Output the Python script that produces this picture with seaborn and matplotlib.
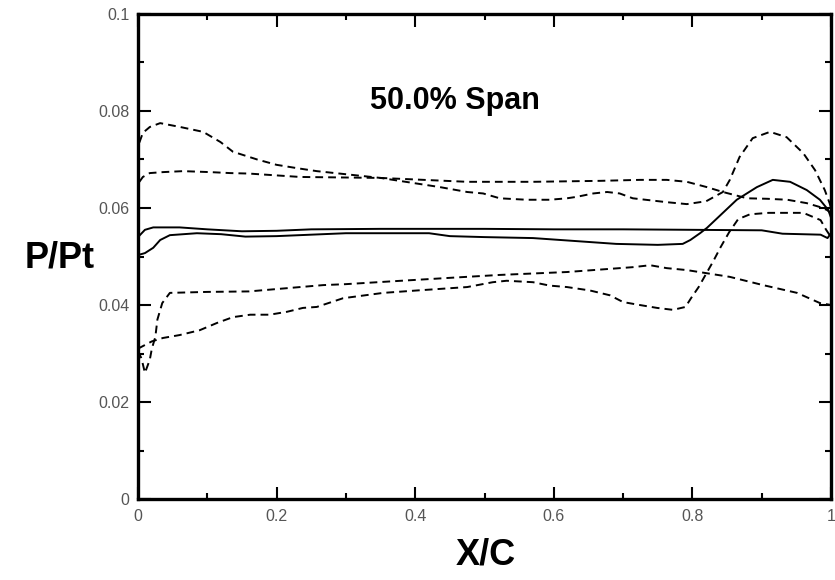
import matplotlib
matplotlib.use("Agg")
import matplotlib.pyplot as plt
import seaborn as sns
import pandas as pd
from matplotlib.ticker import MultipleLocator, FixedLocator

# ---- data (X/C, P/Pt) ----
d1_x = [0.002, 0.007, 0.017, 0.032, 0.061, 0.094, 0.119, 0.137, 0.172, 0.2, 0.23, 0.258,
        0.35, 0.436, 0.475, 0.498, 0.522, 0.561, 0.594, 0.619, 0.633, 0.657, 0.677, 0.695,
        0.714, 0.763, 0.792, 0.82, 0.844, 0.854, 0.868, 0.887, 0.912, 0.936, 0.96, 0.977,
        0.991, 0.998, 1.0]
d1_y = [0.0735, 0.0755, 0.0767, 0.0775, 0.0767, 0.0757, 0.0736, 0.0716, 0.0700, 0.0689, 0.0682, 0.0676,
        0.0662, 0.0643, 0.0633, 0.0630, 0.0620, 0.0617, 0.0617, 0.0620, 0.0623, 0.0630, 0.0633, 0.0630,
        0.0620, 0.0612, 0.0608, 0.0614, 0.0633, 0.0658, 0.0705, 0.0744, 0.0757, 0.0746, 0.0713, 0.0678,
        0.0637, 0.0610, 0.0600]

d2_x = [0.002, 0.007, 0.017, 0.036, 0.065, 0.104, 0.133, 0.16, 0.234, 0.35, 0.475, 0.57,
        0.667, 0.724, 0.763, 0.792, 0.821, 0.844, 0.879, 0.908, 0.937, 0.965, 0.984, 0.994, 1.0]
d2_y = [0.0654, 0.0664, 0.0672, 0.0674, 0.0676, 0.0674, 0.0672, 0.0671, 0.0664, 0.0662, 0.0654, 0.0654,
        0.0656, 0.0658, 0.0658, 0.0654, 0.0643, 0.0633, 0.0620, 0.0619, 0.0617, 0.0610, 0.0602, 0.0596, 0.0590]

s1_x = [0.0, 0.01, 0.022, 0.06, 0.1, 0.15, 0.2, 0.25, 0.35, 0.5, 0.6, 0.7, 0.8, 0.9, 0.93,
        0.985, 0.995, 1.0]
s1_y = [0.0540, 0.0555, 0.0560, 0.0560, 0.0556, 0.0552, 0.0553, 0.0556, 0.0557, 0.0557, 0.0556, 0.0556,
        0.0555, 0.0554, 0.0547, 0.0545, 0.0538, 0.0548]

s2_x = [0.0, 0.01, 0.022, 0.032, 0.046, 0.085, 0.12, 0.155, 0.2, 0.3, 0.42, 0.45, 0.5, 0.57,
        0.63, 0.69, 0.75, 0.786, 0.797, 0.811, 0.821, 0.844, 0.864, 0.893, 0.916, 0.941, 0.965,
        0.984, 0.996, 1.0]
s2_y = [0.0503, 0.0507, 0.0518, 0.0534, 0.0544, 0.0548, 0.0546, 0.0541, 0.0542, 0.0548, 0.0548, 0.0542,
        0.0540, 0.0538, 0.0532, 0.0526, 0.0524, 0.0526, 0.0534, 0.0548, 0.0559, 0.0590, 0.0617, 0.0643,
        0.0658, 0.0654, 0.0637, 0.0617, 0.0596, 0.0580]

l1_x = [0.0, 0.005, 0.01, 0.017, 0.02, 0.025, 0.028, 0.035, 0.046, 0.1, 0.16, 0.234, 0.267,
        0.3, 0.38, 0.45, 0.522, 0.619, 0.714, 0.739, 0.763, 0.792, 0.854, 0.902, 0.951, 0.984, 1.0]
l1_y = [0.0305, 0.0290, 0.0260, 0.0287, 0.0310, 0.0334, 0.0370, 0.0404, 0.0425, 0.0427, 0.0428, 0.0437,
        0.0441, 0.0443, 0.0450, 0.0456, 0.0462, 0.0468, 0.0478, 0.0482, 0.0476, 0.0472, 0.0458, 0.0441,
        0.0425, 0.0404, 0.0400]

l2_x = [0.0, 0.02, 0.036, 0.06, 0.089, 0.114, 0.137, 0.162, 0.19, 0.215, 0.238, 0.258, 0.296,
        0.354, 0.403, 0.475, 0.512, 0.532, 0.57, 0.594, 0.619, 0.652, 0.681, 0.7, 0.724, 0.749,
        0.772, 0.79, 0.798, 0.809, 0.83, 0.841, 0.853, 0.866, 0.883, 0.91, 0.96, 0.985, 0.993, 1.0]
l2_y = [0.0310, 0.0325, 0.0332, 0.0338, 0.0348, 0.0363, 0.0375, 0.0380, 0.0380, 0.0386, 0.0394, 0.0396,
        0.0414, 0.0425, 0.0430, 0.0437, 0.0447, 0.0450, 0.0447, 0.0440, 0.0437, 0.0430, 0.0420, 0.0406,
        0.0400, 0.0394, 0.0390, 0.0396, 0.0414, 0.0437, 0.0490, 0.0520, 0.0550, 0.0577, 0.0587, 0.0590,
        0.0590, 0.0575, 0.0555, 0.0540]

x_ticks = [0, 0.2, 0.4, 0.6, 0.8, 1]
x_tick_labels = ["0", "0.2", "0.4", "0.6", "0.8", "1"]
y_ticks = [0, 0.02, 0.04, 0.06, 0.08, 0.1]
y_tick_labels = ["0", "0.02", "0.04", "0.06", "0.08", "0.1"]

title_text = "50.0% Span"
x_label = "X/C"
y_label = "P/Pt"

series = [
    ("D1", d1_x, d1_y, "dashed"),
    ("D2", d2_x, d2_y, "dashed"),
    ("S1", s1_x, s1_y, "solid"),
    ("S2", s2_x, s2_y, "solid"),
    ("L1", l1_x, l1_y, "dashed"),
    ("L2", l2_x, l2_y, "dashed"),
]

sns.set_theme(style="white")
plt.rcParams["font.family"] = ["Liberation Sans", "DejaVu Sans"]

fig = plt.figure(figsize=(8.35, 5.8), dpi=100)
ax = fig.add_axes([138 / 835, 81 / 580, 693 / 835, 485 / 580])

for name, xs, ys, kind in series:
    df = pd.DataFrame({"x": xs, "y": ys})
    line_ls = (0, (4.0, 2.6)) if kind == "dashed" else "-"
    sns.lineplot(data=df, x="x", y="y", ax=ax, color="black", linewidth=1.4,
                 linestyle=line_ls, sort=False, estimator=None)

ax.set_xlim(0, 1)
ax.set_ylim(0, 0.1)
ax.xaxis.set_major_locator(FixedLocator(x_ticks))
ax.yaxis.set_major_locator(FixedLocator(y_ticks))
ax.set_xticklabels(x_tick_labels)
ax.set_yticklabels(y_tick_labels)
ax.xaxis.set_minor_locator(MultipleLocator(0.1))
ax.yaxis.set_minor_locator(MultipleLocator(0.01))
ax.tick_params(which="both", direction="in", top=True, right=True, bottom=True, left=True,
               color="black", width=1.5)
ax.tick_params(which="major", length=9)
ax.tick_params(which="minor", length=4.5)
ax.tick_params(axis="y", which="major", pad=6, labelsize=11.5, labelcolor="#555555")
ax.tick_params(axis="x", which="major", pad=7, labelsize=11.5, labelcolor="#555555")

for sp in ax.spines.values():
    sp.set_visible(True)
    sp.set_color("black")
    sp.set_linewidth(2.4)

ax.set_xlabel("")
ax.set_ylabel("")
fig.text(486 / 835, 1 - 555 / 580, x_label, ha="center", va="center",
         fontsize=26, fontweight="bold", color="black")
fig.text(60 / 835, 1 - 258 / 580, y_label, ha="center", va="center",
         fontsize=26, fontweight="bold", color="black")
ax.text(0.457, 0.082, title_text, ha="center", va="center",
        fontsize=22, fontweight="bold", color="black")

fig.savefig("out.png", dpi=100)
